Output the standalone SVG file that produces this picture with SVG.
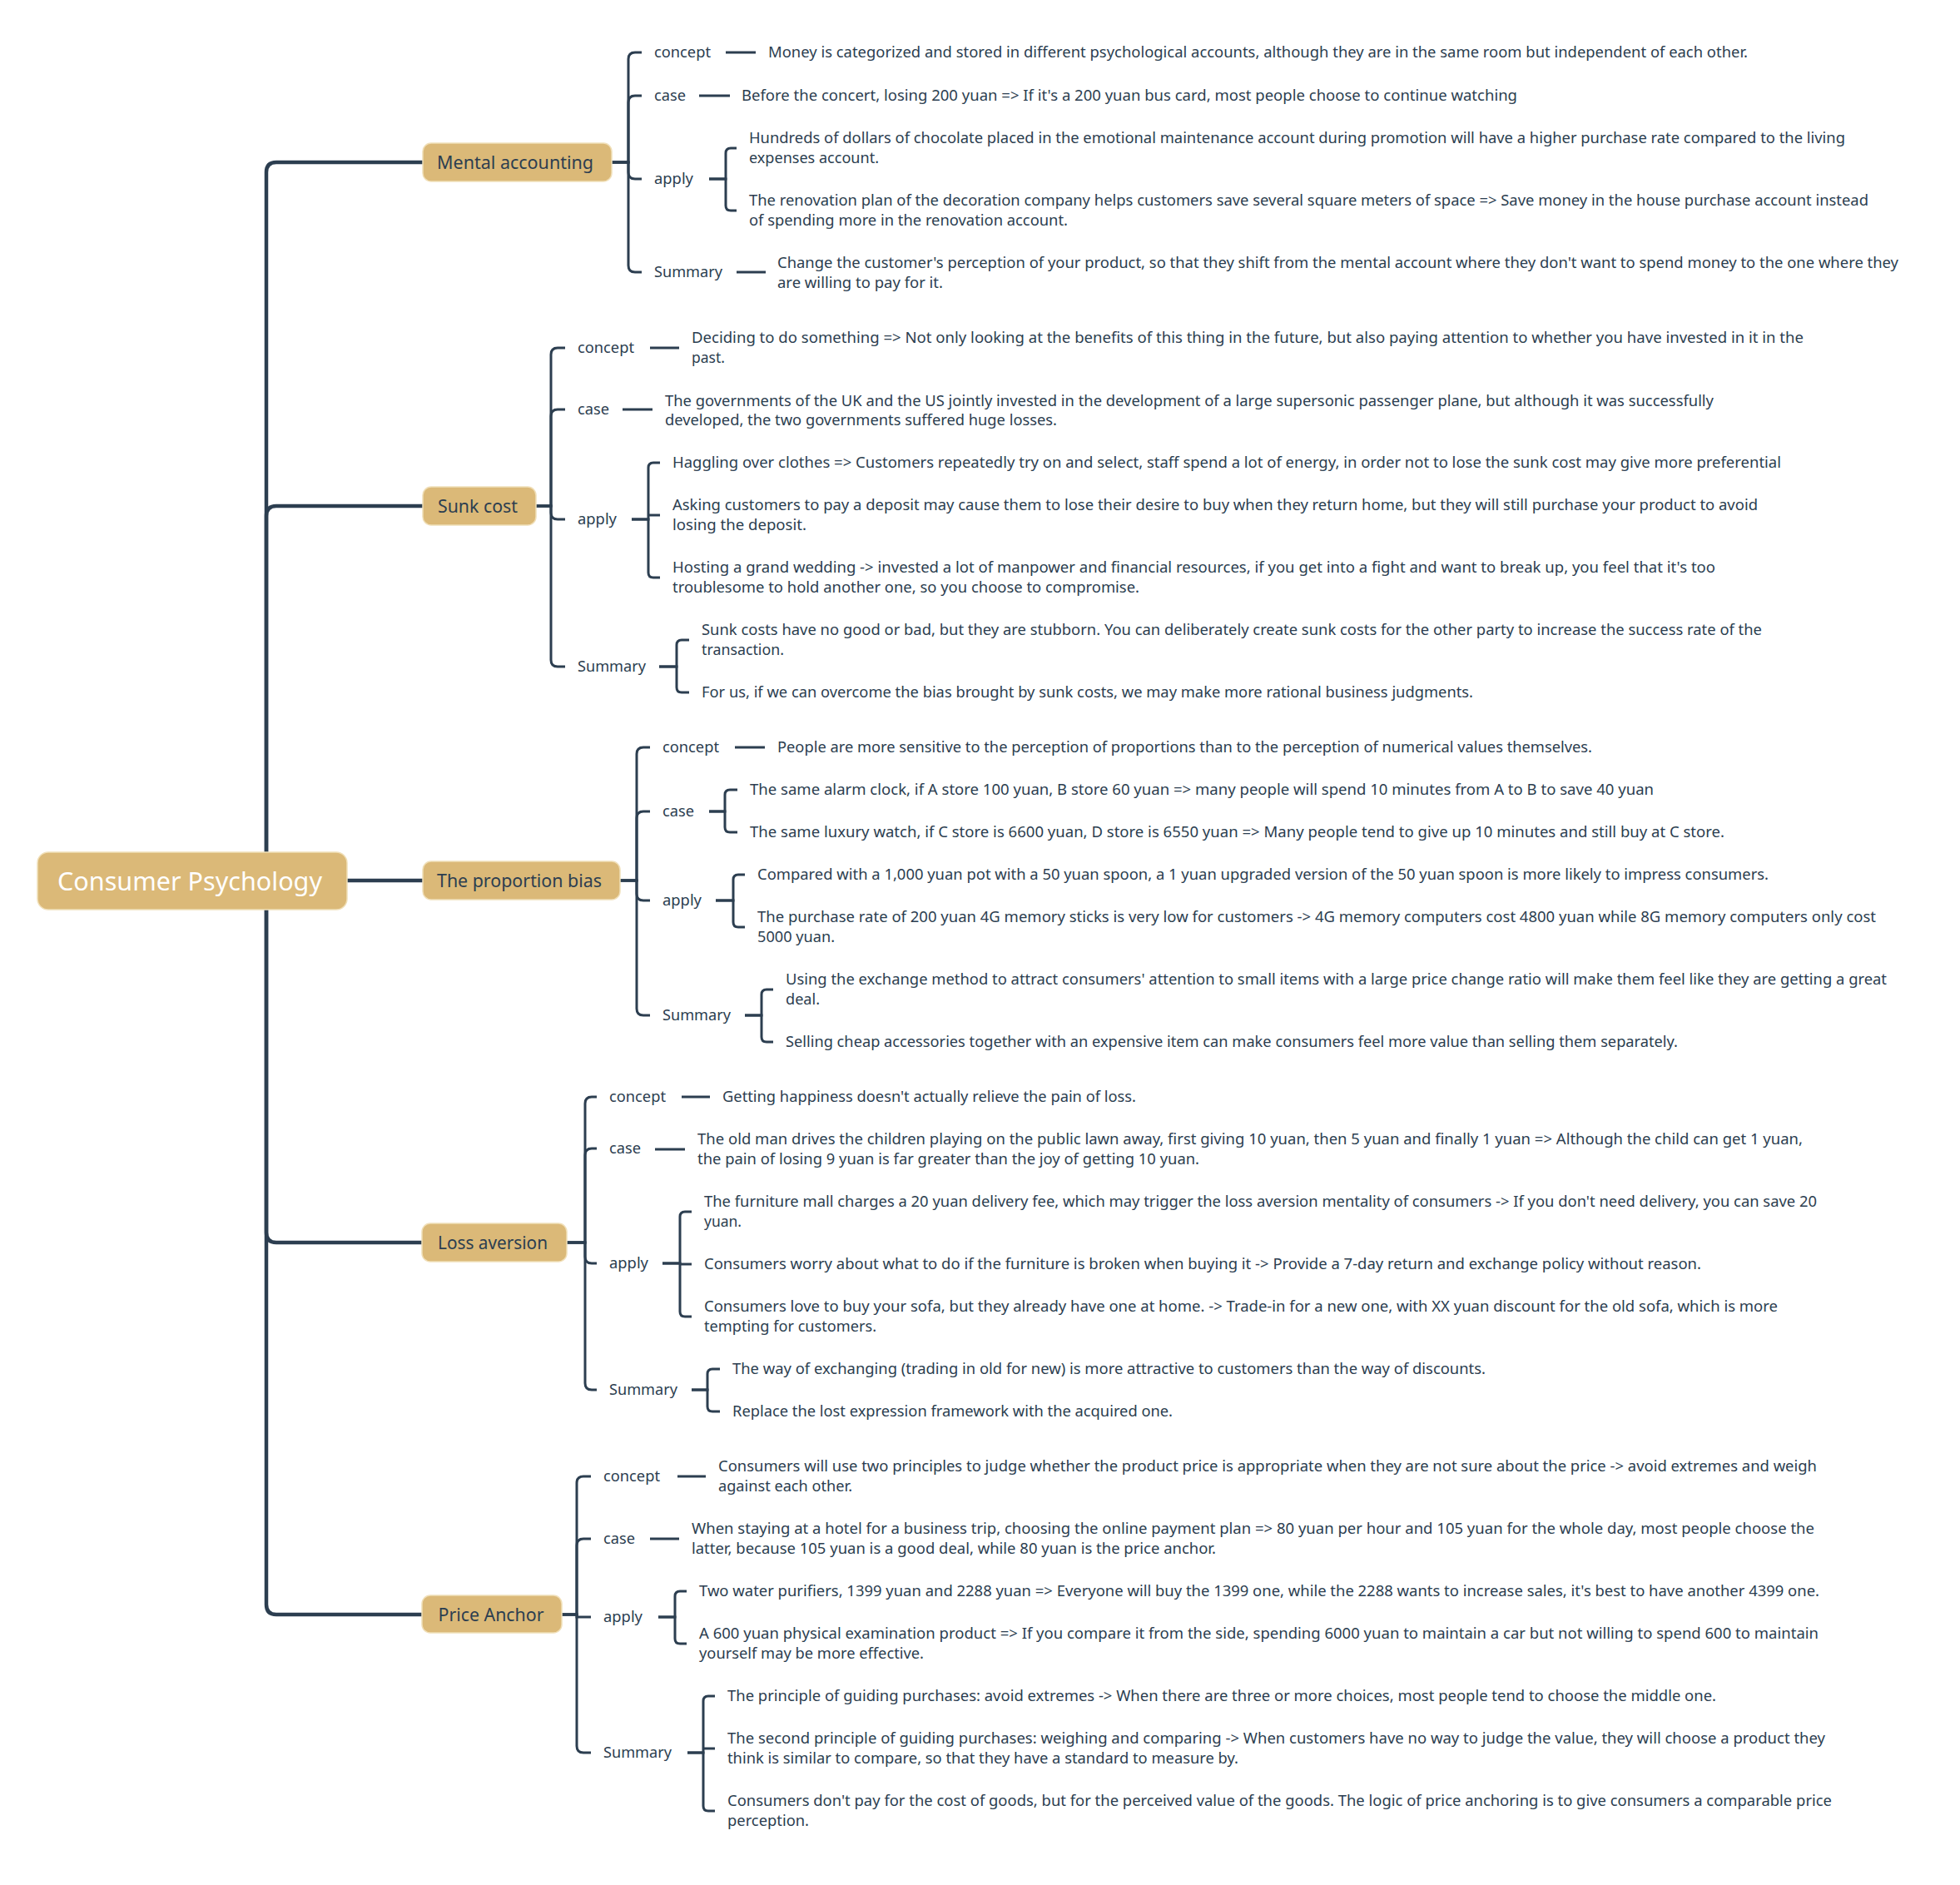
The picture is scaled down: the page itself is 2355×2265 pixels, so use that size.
<svg xmlns="http://www.w3.org/2000/svg" width="2355" height="2265" viewBox="0 0 2355 2265">
<style>
text{font-family:"Noto Sans","Open Sans","Liberation Sans",sans-serif;fill:#2c3e50;dominant-baseline:central}
.t{font-size:17.5px;transform:translate(0px,-1.5px)}
.mn{font-size:21px;text-anchor:middle}
.rt{font-size:31px;fill:#ffffff;text-anchor:middle}
.nb{fill:#dbb978;stroke:#f0dfb8;stroke-width:1.5}
.c1{fill:none;stroke:#2c3e50;stroke-width:4.5}
.c2{fill:none;stroke:#2c3e50;stroke-width:3}
.c3{fill:none;stroke:#2c3e50;stroke-width:3}
</style>
<rect width="2355" height="2265" fill="#ffffff"/>
<g id="connectors">
<g class="c1">
<path d="M320,1058 V207 Q320,195 332,195 H508"/>
<path d="M320,1058 V620 Q320,608 332,608 H508"/>
<path d="M416,1058 H508"/>
<path d="M320,1058 V1481 Q320,1493 332,1493 H507"/>
<path d="M320,1058 V1928 Q320,1940 332,1940 H507"/>
</g>
<g class="c2">
<path d="M735,195 H755 V71 Q755,63 763,63 H771"/>
<path d="M735,195 H755 V123 Q755,115 763,115 H771"/>
<path d="M735,195 H755 V207 Q755,215 763,215 H771"/>
<path d="M735,195 H755 V319 Q755,327 763,327 H771"/>
<path d="M644,608 H662 V426 Q662,418 670,418 H679"/>
<path d="M644,608 H662 V500 Q662,492 670,492 H679"/>
<path d="M644,608 H662 V616 Q662,624 670,624 H679"/>
<path d="M644,608 H662 V793 Q662,801 670,801 H679"/>
<path d="M745,1058 H765 V906 Q765,898 773,898 H781"/>
<path d="M745,1058 H765 V983 Q765,975 773,975 H781"/>
<path d="M745,1058 H765 V1074 Q765,1082 773,1082 H781"/>
<path d="M745,1058 H765 V1212 Q765,1220 773,1220 H781"/>
<path d="M681,1493 H703 V1326 Q703,1318 711,1318 H717"/>
<path d="M681,1493 H703 V1388 Q703,1380 711,1380 H717"/>
<path d="M681,1493 H703 V1510 Q703,1518 711,1518 H717"/>
<path d="M681,1493 H703 V1662 Q703,1670 711,1670 H717"/>
<path d="M675,1940 H693 V1782 Q693,1774 701,1774 H710"/>
<path d="M675,1940 H693 V1857 Q693,1849 701,1849 H710"/>
<path d="M675,1940 H693 V1943 H710"/>
<path d="M675,1940 H693 V2098 Q693,2106 701,2106 H710"/>
</g>
<g class="c3">
<path d="M872,63 H908"/>
<path d="M840,115 H877"/>
<path d="M852,215 H872 V184 Q872,178 878,178 H885"/>
<path d="M852,215 H872 V247 Q872,253 878,253 H885"/>
<path d="M885,327 H920"/>
<path d="M781,418 H816"/>
<path d="M748,492 H784"/>
<path d="M759,624 H779 V562 Q779,556 785,556 H793"/>
<path d="M779,619 H793"/>
<path d="M759,624 H779 V688 Q779,694 785,694 H793"/>
<path d="M792,801 H813 V775 Q813,769 819,769 H828"/>
<path d="M792,801 H813 V826 Q813,832 819,832 H828"/>
<path d="M883,898 H919"/>
<path d="M852,975 H871 V955 Q871,949 877,949 H886"/>
<path d="M852,975 H871 V994 Q871,1000 877,1000 H886"/>
<path d="M860,1082 H881 V1057 Q881,1051 887,1051 H895"/>
<path d="M860,1082 H881 V1108 Q881,1114 887,1114 H895"/>
<path d="M895,1220 H915 V1195 Q915,1189 921,1189 H929"/>
<path d="M895,1220 H915 V1246 Q915,1252 921,1252 H929"/>
<path d="M819,1318 H853"/>
<path d="M787,1381 H823"/>
<path d="M796,1518 H817 V1462 Q817,1456 823,1456 H831"/>
<path d="M817,1519 H831"/>
<path d="M796,1518 H817 V1576 Q817,1582 823,1582 H831"/>
<path d="M831,1670 H850 V1651 Q850,1645 856,1645 H865"/>
<path d="M831,1670 H850 V1690 Q850,1696 856,1696 H865"/>
<path d="M814,1774 H848"/>
<path d="M781,1849 H816"/>
<path d="M791,1943 H811 V1918 Q811,1912 817,1912 H825"/>
<path d="M791,1943 H811 V1969 Q811,1975 817,1975 H825"/>
<path d="M826,2106 H845 V2044 Q845,2038 851,2038 H859"/>
<path d="M845,2101 H859"/>
<path d="M826,2106 H845 V2170 Q845,2176 851,2176 H859"/>
</g>
</g>

<g id="root">
<rect class="nb" x="45" y="1024" width="372" height="69" rx="13"/>
<text class="rt" x="228" y="1058" textLength="318" lengthAdjust="spacingAndGlyphs">Consumer Psychology</text>
</g>

<g id="mental-accounting">
<rect class="nb" x="508" y="172" width="227" height="46" rx="10"/>
<text class="mn" x="619" y="195" textLength="188" lengthAdjust="spacingAndGlyphs">Mental accounting</text>
</g>
<g id="ma-concept"><text class="t" x="786" y="63" textLength="68" lengthAdjust="spacingAndGlyphs">concept</text></g>
<g id="ma-case"><text class="t" x="786" y="115" textLength="38" lengthAdjust="spacingAndGlyphs">case</text></g>
<g id="ma-apply"><text class="t" x="786" y="215" textLength="47" lengthAdjust="spacingAndGlyphs">apply</text></g>
<g id="ma-summary"><text class="t" x="786" y="327" textLength="82" lengthAdjust="spacingAndGlyphs">Summary</text></g>
<g id="ma-concept-1"><text class="t" x="923" y="63" textLength="1177" lengthAdjust="spacingAndGlyphs">Money is categorized and stored in different psychological accounts, although they are in the same room but independent of each other.</text></g>
<g id="ma-case-1"><text class="t" x="891" y="115" textLength="932" lengthAdjust="spacingAndGlyphs">Before the concert, losing 200 yuan =&gt; If it's a 200 yuan bus card, most people choose to continue watching</text></g>
<g id="ma-apply-1">
<text class="t" x="900" y="166" textLength="1317" lengthAdjust="spacingAndGlyphs">Hundreds of dollars of chocolate placed in the emotional maintenance account during promotion will have a higher purchase rate compared to the living</text>
<text class="t" x="900" y="190" textLength="156" lengthAdjust="spacingAndGlyphs">expenses account.</text>
</g>
<g id="ma-apply-2">
<text class="t" x="900" y="241" textLength="1345" lengthAdjust="spacingAndGlyphs">The renovation plan of the decoration company helps customers save several square meters of space =&gt; Save money in the house purchase account instead</text>
<text class="t" x="900" y="265" textLength="383" lengthAdjust="spacingAndGlyphs">of spending more in the renovation account.</text>
</g>
<g id="ma-summary-1">
<text class="t" x="934" y="316" textLength="1347" lengthAdjust="spacingAndGlyphs">Change the customer's perception of your product, so that they shift from the mental account where they don't want to spend money to the one where they</text>
<text class="t" x="934" y="340" textLength="199" lengthAdjust="spacingAndGlyphs">are willing to pay for it.</text>
</g>

<g id="sunk-cost">
<rect class="nb" x="508" y="585" width="136" height="46" rx="10"/>
<text class="mn" x="574" y="608" textLength="96" lengthAdjust="spacingAndGlyphs">Sunk cost</text>
</g>
<g id="sc-concept"><text class="t" x="694" y="418" textLength="68" lengthAdjust="spacingAndGlyphs">concept</text></g>
<g id="sc-case"><text class="t" x="694" y="492" textLength="38" lengthAdjust="spacingAndGlyphs">case</text></g>
<g id="sc-apply"><text class="t" x="694" y="624" textLength="47" lengthAdjust="spacingAndGlyphs">apply</text></g>
<g id="sc-summary"><text class="t" x="694" y="801" textLength="82" lengthAdjust="spacingAndGlyphs">Summary</text></g>
<g id="sc-concept-1">
<text class="t" x="831" y="406" textLength="1336" lengthAdjust="spacingAndGlyphs">Deciding to do something =&gt; Not only looking at the benefits of this thing in the future, but also paying attention to whether you have invested in it in the</text>
<text class="t" x="831" y="430" textLength="40" lengthAdjust="spacingAndGlyphs">past.</text>
</g>
<g id="sc-case-1">
<text class="t" x="799" y="482" textLength="1260" lengthAdjust="spacingAndGlyphs">The governments of the UK and the US jointly invested in the development of a large supersonic passenger plane, but although it was successfully</text>
<text class="t" x="799" y="505" textLength="471" lengthAdjust="spacingAndGlyphs">developed, the two governments suffered huge losses.</text>
</g>
<g id="sc-apply-1"><text class="t" x="808" y="556" textLength="1332" lengthAdjust="spacingAndGlyphs">Haggling over clothes =&gt; Customers repeatedly try on and select, staff spend a lot of energy, in order not to lose the sunk cost may give more preferential</text></g>
<g id="sc-apply-2">
<text class="t" x="808" y="607" textLength="1304" lengthAdjust="spacingAndGlyphs">Asking customers to pay a deposit may cause them to lose their desire to buy when they return home, but they will still purchase your product to avoid</text>
<text class="t" x="808" y="631" textLength="161" lengthAdjust="spacingAndGlyphs">losing the deposit.</text>
</g>
<g id="sc-apply-3">
<text class="t" x="808" y="682" textLength="1253" lengthAdjust="spacingAndGlyphs">Hosting a grand wedding -&gt; invested a lot of manpower and financial resources, if you get into a fight and want to break up, you feel that it's too</text>
<text class="t" x="808" y="706" textLength="561" lengthAdjust="spacingAndGlyphs">troublesome to hold another one, so you choose to compromise.</text>
</g>
<g id="sc-summary-1">
<text class="t" x="843" y="757" textLength="1274" lengthAdjust="spacingAndGlyphs">Sunk costs have no good or bad, but they are stubborn. You can deliberately create sunk costs for the other party to increase the success rate of the</text>
<text class="t" x="843" y="781" textLength="99" lengthAdjust="spacingAndGlyphs">transaction.</text>
</g>
<g id="sc-summary-2"><text class="t" x="843" y="832" textLength="927" lengthAdjust="spacingAndGlyphs">For us, if we can overcome the bias brought by sunk costs, we may make more rational business judgments.</text></g>

<g id="proportion-bias">
<rect class="nb" x="508" y="1035" width="237" height="46" rx="10"/>
<text class="mn" x="624" y="1058" textLength="198" lengthAdjust="spacingAndGlyphs">The proportion bias</text>
</g>
<g id="pb-concept"><text class="t" x="796" y="898" textLength="68" lengthAdjust="spacingAndGlyphs">concept</text></g>
<g id="pb-case"><text class="t" x="796" y="975" textLength="38" lengthAdjust="spacingAndGlyphs">case</text></g>
<g id="pb-apply"><text class="t" x="796" y="1082" textLength="47" lengthAdjust="spacingAndGlyphs">apply</text></g>
<g id="pb-summary"><text class="t" x="796" y="1220" textLength="82" lengthAdjust="spacingAndGlyphs">Summary</text></g>
<g id="pb-concept-1"><text class="t" x="934" y="898" textLength="979" lengthAdjust="spacingAndGlyphs">People are more sensitive to the perception of proportions than to the perception of numerical values themselves.</text></g>
<g id="pb-case-1"><text class="t" x="901" y="949" textLength="1086" lengthAdjust="spacingAndGlyphs">The same alarm clock, if A store 100 yuan, B store 60 yuan =&gt; many people will spend 10 minutes from A to B to save 40 yuan</text></g>
<g id="pb-case-2"><text class="t" x="901" y="1000" textLength="1171" lengthAdjust="spacingAndGlyphs">The same luxury watch, if C store is 6600 yuan, D store is 6550 yuan =&gt; Many people tend to give up 10 minutes and still buy at C store.</text></g>
<g id="pb-apply-1"><text class="t" x="910" y="1051" textLength="1215" lengthAdjust="spacingAndGlyphs">Compared with a 1,000 yuan pot with a 50 yuan spoon, a 1 yuan upgraded version of the 50 yuan spoon is more likely to impress consumers.</text></g>
<g id="pb-apply-2">
<text class="t" x="910" y="1102" textLength="1344" lengthAdjust="spacingAndGlyphs">The purchase rate of 200 yuan 4G memory sticks is very low for customers -&gt; 4G memory computers cost 4800 yuan while 8G memory computers only cost</text>
<text class="t" x="910" y="1126" textLength="93" lengthAdjust="spacingAndGlyphs">5000 yuan.</text>
</g>
<g id="pb-summary-1">
<text class="t" x="944" y="1177" textLength="1323" lengthAdjust="spacingAndGlyphs">Using the exchange method to attract consumers' attention to small items with a large price change ratio will make them feel like they are getting a great</text>
<text class="t" x="944" y="1201" textLength="41" lengthAdjust="spacingAndGlyphs">deal.</text>
</g>
<g id="pb-summary-2"><text class="t" x="944" y="1252" textLength="1072" lengthAdjust="spacingAndGlyphs">Selling cheap accessories together with an expensive item can make consumers feel more value than selling them separately.</text></g>

<g id="loss-aversion">
<rect class="nb" x="507" y="1470" width="174" height="46" rx="10"/>
<text class="mn" x="592" y="1493" textLength="132" lengthAdjust="spacingAndGlyphs">Loss aversion</text>
</g>
<g id="la-concept"><text class="t" x="732" y="1318" textLength="68" lengthAdjust="spacingAndGlyphs">concept</text></g>
<g id="la-case"><text class="t" x="732" y="1380" textLength="38" lengthAdjust="spacingAndGlyphs">case</text></g>
<g id="la-apply"><text class="t" x="732" y="1518" textLength="47" lengthAdjust="spacingAndGlyphs">apply</text></g>
<g id="la-summary"><text class="t" x="732" y="1670" textLength="82" lengthAdjust="spacingAndGlyphs">Summary</text></g>
<g id="la-concept-1"><text class="t" x="868" y="1318" textLength="497" lengthAdjust="spacingAndGlyphs">Getting happiness doesn't actually relieve the pain of loss.</text></g>
<g id="la-case-1">
<text class="t" x="838" y="1369" textLength="1328" lengthAdjust="spacingAndGlyphs">The old man drives the children playing on the public lawn away, first giving 10 yuan, then 5 yuan and finally 1 yuan =&gt; Although the child can get 1 yuan,</text>
<text class="t" x="838" y="1393" textLength="603" lengthAdjust="spacingAndGlyphs">the pain of losing 9 yuan is far greater than the joy of getting 10 yuan.</text>
</g>
<g id="la-apply-1">
<text class="t" x="846" y="1444" textLength="1337" lengthAdjust="spacingAndGlyphs">The furniture mall charges a 20 yuan delivery fee, which may trigger the loss aversion mentality of consumers -&gt; If you don't need delivery, you can save 20</text>
<text class="t" x="846" y="1468" textLength="45" lengthAdjust="spacingAndGlyphs">yuan.</text>
</g>
<g id="la-apply-2"><text class="t" x="846" y="1519" textLength="1198" lengthAdjust="spacingAndGlyphs">Consumers worry about what to do if the furniture is broken when buying it -&gt; Provide a 7-day return and exchange policy without reason.</text></g>
<g id="la-apply-3">
<text class="t" x="846" y="1570" textLength="1290" lengthAdjust="spacingAndGlyphs">Consumers love to buy your sofa, but they already have one at home. -&gt; Trade-in for a new one, with XX yuan discount for the old sofa, which is more</text>
<text class="t" x="846" y="1594" textLength="207" lengthAdjust="spacingAndGlyphs">tempting for customers.</text>
</g>
<g id="la-summary-1"><text class="t" x="880" y="1645" textLength="905" lengthAdjust="spacingAndGlyphs">The way of exchanging (trading in old for new) is more attractive to customers than the way of discounts.</text></g>
<g id="la-summary-2"><text class="t" x="880" y="1696" textLength="529" lengthAdjust="spacingAndGlyphs">Replace the lost expression framework with the acquired one.</text></g>

<g id="price-anchor">
<rect class="nb" x="507" y="1917" width="168" height="45" rx="10"/>
<text class="mn" x="590" y="1940" textLength="127" lengthAdjust="spacingAndGlyphs">Price Anchor</text>
</g>
<g id="pa-concept"><text class="t" x="725" y="1774" textLength="68" lengthAdjust="spacingAndGlyphs">concept</text></g>
<g id="pa-case"><text class="t" x="725" y="1849" textLength="38" lengthAdjust="spacingAndGlyphs">case</text></g>
<g id="pa-apply"><text class="t" x="725" y="1943" textLength="47" lengthAdjust="spacingAndGlyphs">apply</text></g>
<g id="pa-summary"><text class="t" x="725" y="2106" textLength="82" lengthAdjust="spacingAndGlyphs">Summary</text></g>
<g id="pa-concept-1">
<text class="t" x="863" y="1762" textLength="1320" lengthAdjust="spacingAndGlyphs">Consumers will use two principles to judge whether the product price is appropriate when they are not sure about the price -&gt; avoid extremes and weigh</text>
<text class="t" x="863" y="1786" textLength="161" lengthAdjust="spacingAndGlyphs">against each other.</text>
</g>
<g id="pa-case-1">
<text class="t" x="831" y="1837" textLength="1349" lengthAdjust="spacingAndGlyphs">When staying at a hotel for a business trip, choosing the online payment plan =&gt; 80 yuan per hour and 105 yuan for the whole day, most people choose the</text>
<text class="t" x="831" y="1861" textLength="630" lengthAdjust="spacingAndGlyphs">latter, because 105 yuan is a good deal, while 80 yuan is the price anchor.</text>
</g>
<g id="pa-apply-1"><text class="t" x="840" y="1912" textLength="1346" lengthAdjust="spacingAndGlyphs">Two water purifiers, 1399 yuan and 2288 yuan =&gt; Everyone will buy the 1399 one, while the 2288 wants to increase sales, it's best to have another 4399 one.</text></g>
<g id="pa-apply-2">
<text class="t" x="840" y="1963" textLength="1345" lengthAdjust="spacingAndGlyphs">A 600 yuan physical examination product =&gt; If you compare it from the side, spending 6000 yuan to maintain a car but not willing to spend 600 to maintain</text>
<text class="t" x="840" y="1987" textLength="270" lengthAdjust="spacingAndGlyphs">yourself may be more effective.</text>
</g>
<g id="pa-summary-1"><text class="t" x="874" y="2038" textLength="1188" lengthAdjust="spacingAndGlyphs">The principle of guiding purchases: avoid extremes -&gt; When there are three or more choices, most people tend to choose the middle one.</text></g>
<g id="pa-summary-2">
<text class="t" x="874" y="2089" textLength="1319" lengthAdjust="spacingAndGlyphs">The second principle of guiding purchases: weighing and comparing -&gt; When customers have no way to judge the value, they will choose a product they</text>
<text class="t" x="874" y="2113" textLength="614" lengthAdjust="spacingAndGlyphs">think is similar to compare, so that they have a standard to measure by.</text>
</g>
<g id="pa-summary-3">
<text class="t" x="874" y="2164" textLength="1327" lengthAdjust="spacingAndGlyphs">Consumers don't pay for the cost of goods, but for the perceived value of the goods. The logic of price anchoring is to give consumers a comparable price</text>
<text class="t" x="874" y="2188" textLength="98" lengthAdjust="spacingAndGlyphs">perception.</text>
</g>
</svg>
